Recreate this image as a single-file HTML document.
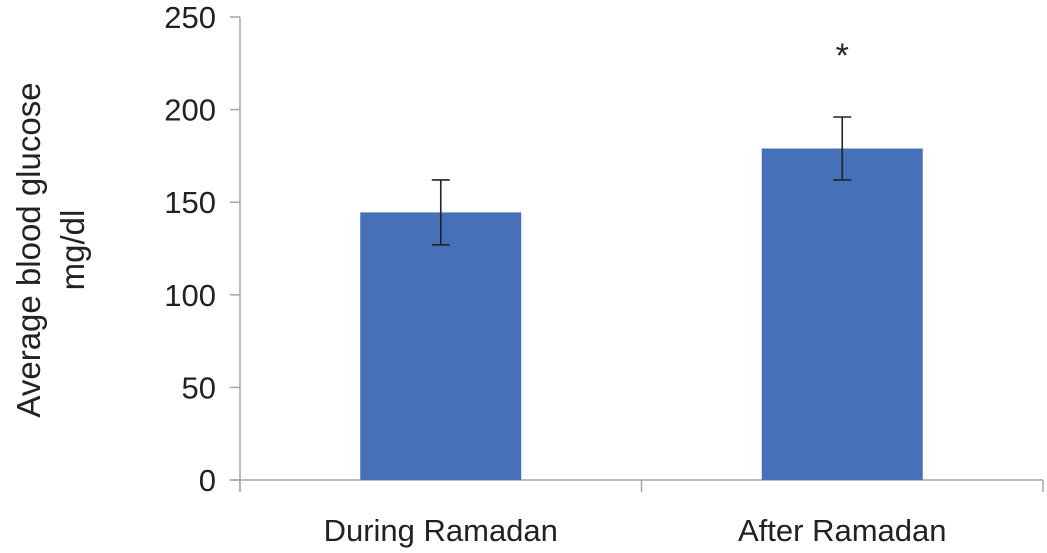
<!DOCTYPE html>
<html><head><meta charset="utf-8"><style>
body{margin:0;background:#fff;}
svg{display:block;font-family:"Liberation Sans",sans-serif;}
</style></head><body>
<svg id="chart" width="1047" height="553">
<g id="axes"></g><g id="bars"></g>
</svg>
<script>
const categories = ["During Ramadan", "After Ramadan"];
const means = [144.5, 179];
const errUpper = [162, 196];
const errLower = [127, 162];
const yTicks = [0, 50, 100, 150, 200, 250];
const sigMarks = ["", "*"];

const NS = "http://www.w3.org/2000/svg";
const x0 = 240, x1 = 1043, yBase = 480, yTop = 17, yMax = 250;
const yScale = v => yBase - (v / yMax) * (yBase - yTop);
const band = (x1 - x0) / categories.length;
const xCenter = i => x0 + band * (i + 0.5);
const barW = 161;
function mk(tag, attrs, parent) {
  const e = document.createElementNS(NS, tag);
  for (const k in attrs) e.setAttribute(k, attrs[k]);
  parent.appendChild(e);
  return e;
}
const axes = document.getElementById("axes");
const bars = document.getElementById("bars");

const yAxis = mk("line", {x1: x0, y1: yTop, x2: x0, y2: yBase + 12, stroke: "#a6a6a6", "stroke-width": 1.5}, axes);


const xAxis = mk("line", {x1: 230, y1: yBase, x2: x1, y2: yBase, stroke: "#a6a6a6", "stroke-width": 1.5}, axes);



yTicks.forEach(v => {
  const y = yScale(v);
  const t = mk("line", {x1: 230, y1: y, x2: x0, y2: y, stroke: "#a6a6a6", "stroke-width": 1.5}, axes);
  
  
  const l = mk("text", {x: 216, y: y + 11, "text-anchor": "end", "font-size": 31, fill: "#222"}, axes);
  l.textContent = v;
  
  
});
for (let i = 0; i <= categories.length; i++) {
  const x = x0 + band * i;
  const t = mk("line", {x1: x, y1: yBase, x2: x, y2: yBase + 12, stroke: "#a6a6a6", "stroke-width": 1.5}, axes);
  
  
}
categories.forEach((c, i) => {
  const cx = xCenter(i);
  const r = mk("rect", {x: cx - barW / 2, y: yScale(means[i]), width: barW, height: yBase - yScale(means[i]), fill: "#4671b8"}, bars);
  
  
  const eb = mk("path", {d: `M${cx},${yScale(errUpper[i])}V${yScale(errLower[i])}M${cx-9},${yScale(errUpper[i])}H${cx+9}M${cx-9},${yScale(errLower[i])}H${cx+9}`, stroke: "#222", "stroke-width": 1.6, fill: "none"}, bars);
  
  
  const lab = mk("text", {x: cx, y: 541, "text-anchor": "middle", "font-size": 31, fill: "#222"}, axes);
  lab.textContent = c;
  
  
  if (sigMarks[i]) {
    const s = mk("text", {x: cx, y: yScale(errUpper[i]) - 50, "text-anchor": "middle", "font-size": 34, fill: "#222"}, bars);
    s.textContent = sigMarks[i];
    
    
  }
});
const title = mk("text", {transform: "translate(0,0)", "font-size": 33, fill: "#222", "text-anchor": "middle"}, axes);


const t1 = mk("tspan", {x: 0, y: 0}, title);
t1.textContent = "Average blood glucose";
const t2 = mk("tspan", {x: 0, y: 44}, title);
t2.textContent = "mg/dl";
title.setAttribute("transform", "translate(40,250) rotate(-90)");
</script>
</body></html>
